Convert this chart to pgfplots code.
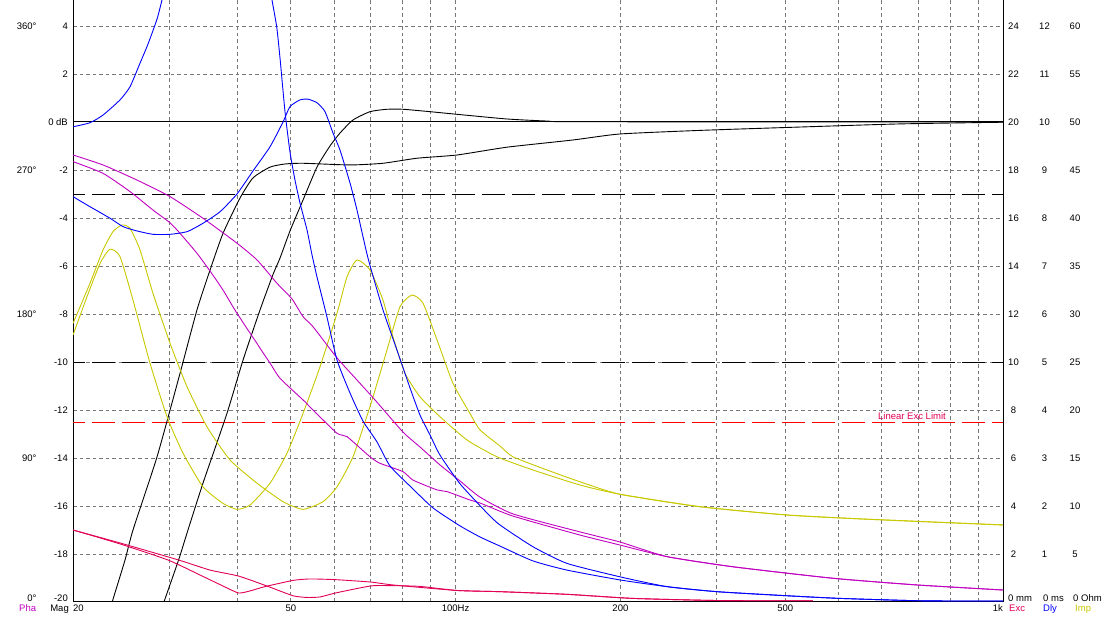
\documentclass[border=0pt]{standalone}
\usepackage{pgfplots}
\pgfplotsset{compat=1.18}
\usepackage{fontspec}
\setmainfont{Liberation Sans}
\definecolor{cmag}{RGB}{192,0,192}
\definecolor{cyel}{RGB}{200,200,0}
\definecolor{cexc}{RGB}{225,0,85}
\definecolor{cgrid}{RGB}{120,120,120}
\definecolor{cblue}{RGB}{0,0,255}
\definecolor{climit}{RGB}{255,0,0}
\begin{document}
\begin{tikzpicture}[font=\fontsize{9.5}{10}\selectfont]
\begin{axis}[
  xmode=log, scale only axis, width=930pt, height=602pt,
  xmin=20, xmax=1000, ymin=-20, ymax=5.0833,
  axis x line*=bottom, axis y line*=box,
  axis line style={black, line width=1pt},
  xtick={30,40,50,60,70,80,90,100,200,300,400,500,600,700,800,900},
  ytick={-18,-16,-14,-12,-10,-8,-6,-4,-2,2,4},
  xticklabels={}, yticklabels={},
  major tick length=0pt, minor tick length=0pt,
  xmajorgrids, ymajorgrids,
  grid style={cgrid, line width=0.8pt, dash pattern=on 3.5pt off 3pt},
  every axis plot/.append style={line width=0.9pt},
  curve/.style={smooth, tension=0.35},
]
\coordinate (BL) at (rel axis cs:0,0);
\coordinate (TR) at (rel axis cs:1,1);
% reference lines
\addplot[black, line width=1pt] coordinates {(20,0) (1000,0)};
\addplot[black, dash pattern=on 23pt off 7pt, dash phase=11pt] coordinates {(20,-3) (1000,-3)};
\addplot[black, dash pattern=on 23pt off 7pt, dash phase=11pt] coordinates {(20,-10) (1000,-10)};
\addplot[climit, dash pattern=on 23pt off 7pt, dash phase=11pt] coordinates {(20,-12.5) (1000,-12.5)};
% Mag (black)
\addplot[black, curve] coordinates {(23.35,-20.33) (23.61,-19.96) (24.89,-18.25) (25.74,-17.0) (28.48,-13.95) (31.37,-10.47) (33.69,-7.83) (35.59,-6.17) (37.59,-4.64) (40.37,-3.17) (42.64,-2.33) (45.81,-1.88) (48.79,-1.75) (52.63,-1.72) (64.13,-1.79) (73.68,-1.72) (85.0,-1.51) (100.6,-1.375) (124.1,-1.05) (163.8,-0.75) (199.6,-0.5) (279.6,-0.35) (425.8,-0.21) (648,-0.08) (1000,-0.01)};
\addplot[black, curve] coordinates {(29.0,-20.33) (29.36,-19.96) (31.18,-18.25) (32.44,-17.0) (34.55,-15.05) (38.22,-12.14) (40.89,-9.92) (43.92,-7.83) (46.39,-6.35) (47.77,-5.67) (49.82,-4.54) (52.63,-3.25) (55.82,-1.875) (58.95,-1.0) (61.49,-0.46) (64.94,0.083) (69.76,0.43) (74.93,0.53) (80.14,0.53) (89.78,0.43) (100.6,0.32) (124.1,0.125) (146.9,0.04) (170.9,0.01) (1000,0)};
% Imp (yellow)
\addplot[cyel, curve] coordinates {(20,-8.875) (21.21,-7.28) (22.41,-5.89) (23.37,-5.30) (24.37,-5.61) (25.74,-7.42) (27.65,-10.05) (29.70,-12.28) (31.77,-13.80) (34.55,-15.20) (37.59,-15.89) (39.87,-16.14) (42.11,-15.96) (45.81,-15.05) (49.2,-13.80) (52.63,-12.14) (56.53,-10.20) (60.72,-7.97) (63.33,-6.45) (66.04,-5.75) (69.76,-6.17) (73.68,-7.42) (76.84,-8.95) (80.82,-10.47) (86.08,-11.45) (93.64,-12.28) (104.9,-13.25) (119.0,-13.95) (138.5,-14.5) (168.7,-15.125) (199.6,-15.51) (279.6,-16.03) (403.1,-16.375) (564.3,-16.55) (1000,-16.79)};
\addplot[cyel, curve] coordinates {(20,-8.39) (21.48,-6.72) (22.69,-5.33) (23.66,-4.57) (24.58,-4.29) (25.42,-4.43) (26.51,-5.33) (28.00,-7.14) (30.08,-9.22) (32.31,-11.03) (35.14,-12.70) (38.71,-14.08) (43.37,-15.05) (48.38,-15.82) (52.63,-16.14) (57.24,-15.82) (60.72,-15.20) (64.94,-13.95) (69.76,-11.86) (74.93,-9.5) (79.13,-7.70) (83.23,-7.21) (87.18,-7.55) (92.47,-9.08) (98.90,-10.89) (106.2,-12.14) (110.8,-12.83) (120.5,-13.5) (127.3,-13.95) (146.9,-14.5) (168.7,-14.99) (199.6,-15.51) (279.6,-16.03) (403.1,-16.375) (564.3,-16.55) (1000,-16.79)};
% Pha (magenta)
\addplot[cmag, curve] coordinates {(20,-1.375) (22.69,-1.79) (26.18,-2.42) (30.08,-3.11) (34.55,-4.01) (39.87,-5.05) (43.37,-5.75) (47.17,-6.72) (50.25,-7.375) (52.63,-8.11) (54.89,-8.53) (60.72,-9.83) (66.04,-10.75) (71.24,-11.58) (80.14,-12.92) (86.08,-13.54) (93.64,-14.29) (101.9,-14.96) (110.8,-15.63) (127.3,-16.33) (168.7,-17.08) (199.6,-17.5) (243.3,-18.11) (320.6,-18.53) (488.4,-19.01) (696.3,-19.29) (1000,-19.5)};
\addplot[cmag, curve] coordinates {(20,-1.65) (22.69,-2.14) (25.42,-2.90) (28.00,-3.67) (30.08,-4.2) (31.37,-4.64) (33.69,-5.47) (35.59,-6.21) (37.59,-7.0) (39.87,-7.97) (45.81,-10.05) (47.77,-10.68) (52.63,-11.58) (54.89,-12.0) (60.72,-12.97) (63.33,-13.11) (69.76,-13.95) (72.75,-14.22) (80.14,-14.57) (83.58,-14.92) (92.47,-15.33) (96.44,-15.40) (106.2,-15.75) (110.8,-15.875) (127.3,-16.42) (168.7,-17.21) (199.6,-17.625) (243.3,-18.11) (320.6,-18.53) (488.4,-19.01) (696.3,-19.29) (1000,-19.5)};
% Dly (blue)
\addplot[cblue, curve] coordinates {(20,-0.20) (21.48,-0.03) (22.69,0.29) (24.37,0.92) (25.42,1.47) (26.51,2.45) (27.42,3.25) (28.48,4.29) (29.08,5.08) (29.58,5.75)};
\addplot[cblue, curve] coordinates {(45.42,6.13) (46.19,5.08) (47.11,3.97) (47.77,2.67) (48.79,0.42) (49.82,-1.25) (50.88,-2.42) (51.96,-3.375) (53.52,-4.5) (54.66,-5.54) (55.82,-6.46) (58.21,-8.13) (60.72,-9.92) (64.13,-11.29) (67.73,-12.46) (71.84,-13.33) (75.88,-14.33) (82.54,-15.17) (90.92,-16.08) (101.9,-16.83) (110.8,-17.29) (120.5,-17.67) (138.5,-18.29) (159.7,-18.67) (199.6,-19.08) (243.3,-19.36) (300.2,-19.57) (403.1,-19.74) (503.6,-19.85) (710,-19.95) (1000,-19.96)};
\addplot[cblue, curve] coordinates {(20,-3.11) (21.48,-3.53) (23.37,-4.01) (24.68,-4.36) (26.18,-4.54) (28.00,-4.68) (30.08,-4.68) (32.31,-4.57) (34.55,-4.22) (37.12,-3.74) (39.87,-3.0) (42.64,-2.04) (45.81,-1.03) (48.38,0.0) (49.82,0.64) (51.96,0.92) (53.74,0.95) (55.82,0.80) (57.73,0.43) (59.70,-0.46) (61.49,-1.17) (64.13,-2.54) (66.04,-3.67) (69.17,-5.67) (73.68,-7.83) (78.14,-9.5) (82.54,-11.08) (86.08,-12.21) (89.78,-13.04) (93.64,-13.88) (101.9,-15.08) (114.1,-16.29) (120.5,-16.79) (138.5,-17.70) (159.7,-18.39) (199.6,-18.95) (243.3,-19.36) (300.2,-19.57) (403.1,-19.74) (503.6,-19.85) (710,-19.95) (1000,-19.96)};
% Exc (crimson)
\addplot[cexc, curve] coordinates {(20,-17.0) (24.37,-17.58) (29.82,-18.25) (34.12,-18.875) (37.91,-19.375) (40.14,-19.625) (42.11,-19.54) (44.66,-19.37) (50.46,-19.10) (54.2,-19.04) (60.46,-19.07) (70.05,-19.17) (76.84,-19.29) (100.6,-19.52) (120.5,-19.57) (159.7,-19.68) (210.9,-19.85) (304.1,-19.94) (449.2,-19.95)};
\addplot[cexc, curve] coordinates {(20,-17.0) (24.37,-17.54) (31.18,-18.25) (35.59,-18.67) (40.14,-18.92) (45.04,-19.32) (50.46,-19.74) (53.52,-19.81) (56.53,-19.79) (60.46,-19.62) (70.05,-19.33) (76.84,-19.32) (86.08,-19.35) (100.6,-19.52) (120.5,-19.57) (159.7,-19.68) (210.9,-19.85) (304.1,-19.94) (449.2,-19.95)};
\end{axis}
\begin{scope}[every node/.style={inner sep=0pt}]
% left dB labels
\foreach \d/\t in {4/4,2/2,0/0 dB,-2/-2,-4/-4,-6/-6,-8/-8,-10/-10,-12/-12,-14/-14,-16/-16,-18/-18}
  \path (BL) ++(-5pt,{(\d+20)*24pt}) node[anchor=east]{\t};
\path (BL) ++(-5pt,4pt) node[anchor=east]{-20};
% phase labels
\foreach \d/\t in {4/360,-2/270,-8/180,-14/90}
  \path (BL) ++(-36.3pt,{(\d+20)*24pt}) node[anchor=east]{\t°};
\path (BL) ++(-36.3pt,4pt) node[anchor=east]{0°};
% right columns
\foreach \d/\a/\b/\c in {4/24/12/60,2/22/11/55,0/20/10/50,-2/18/9/45,-4/16/8/40,-6/14/7/35,-8/12/6/30,-10/10/5/25,-12/8/4/20,-14/6/3/15,-16/4/2/10,-18/2/1/5}{
  \path (BL) ++(940.5pt,{(\d+20)*24pt}) node{\a};
  \path (BL) ++(971.5pt,{(\d+20)*24pt}) node{\b};
  \path (BL) ++(1002pt,{(\d+20)*24pt}) node{\c};
}
\path (BL) ++(935pt,4pt) node[anchor=west]{0 mm};
\path (BL) ++(970pt,4pt) node[anchor=west]{0 ms};
\path (BL) ++(1000pt,4pt) node[anchor=west]{0 Ohm};
% bottom row
\path (BL) ++(-54pt,-10pt) node[anchor=base west, text=cmag]{Pha};
\path (BL) ++(-4pt,-10pt) node[anchor=base east]{Mag};
\path (BL) ++(0pt,-10pt) node[anchor=base west]{20};
\path (BL) ++(217.8pt,-10pt) node[anchor=base]{50};
\path (BL) ++(382.6pt,-10pt) node[anchor=base]{100Hz};
\path (BL) ++(547.4pt,-10pt) node[anchor=base]{200};
\path (BL) ++(712.2pt,-10pt) node[anchor=base]{500};
\path (BL) ++(930pt,-10pt) node[anchor=base east]{1k};
\path (BL) ++(936pt,-10pt) node[anchor=base west, text=cexc]{Exc};
\path (BL) ++(970pt,-10pt) node[anchor=base west, text=cblue]{Dly};
\path (BL) ++(1002pt,-10pt) node[anchor=base west, text=cyel]{Imp};
% limit label
\path (BL) ++(805pt,182pt) node[anchor=base west, text=cexc]{Linear Exc Limit};
\end{scope}
\path (BL) ++(-73pt,-27pt) coordinate (BBA);
\path (TR) ++(105pt,0pt) coordinate (BBB);
\pgfresetboundingbox
\path (BBA) rectangle (BBB);
\end{tikzpicture}
\end{document}
